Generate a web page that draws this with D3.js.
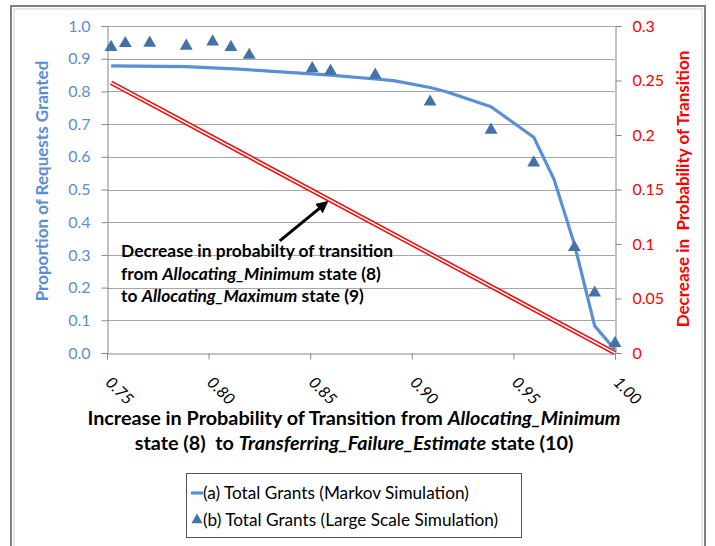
<!DOCTYPE html>
<html>
<head>
<meta charset="utf-8">
<script src="https://cdn.jsdelivr.net/npm/d3@7"></script>
<style>
  body { margin: 0; background: #fff; }
  svg text { font-family: Lato, "Open Sans", sans-serif; }
</style>
</head>
<body>
<svg width="715" height="546"></svg>
<script>
// values
var xTicks = [0.75, 0.80, 0.85, 0.90, 0.95, 1.00];
var leftTicks = [0, 0.1, 0.2, 0.3, 0.4, 0.5, 0.6, 0.7, 0.8, 0.9, 1.0];
var rightTicks = [0, 0.05, 0.1, 0.15, 0.2, 0.25, 0.3];

var markovX = [0.752, 0.789, 0.815, 0.860, 0.882, 0.891, 0.909, 0.917, 0.939, 0.960, 0.970, 0.980, 0.990, 1.000];
var markovY = [0.878, 0.876, 0.868, 0.850, 0.838, 0.833, 0.812, 0.799, 0.753, 0.660, 0.531, 0.333, 0.083, 0.010];

var largeX = [0.752, 0.759, 0.771, 0.789, 0.802, 0.811, 0.820, 0.851, 0.860, 0.882, 0.909, 0.939, 0.960, 0.980, 0.990, 1.000];
var largeY = [0.935, 0.947, 0.948, 0.939, 0.952, 0.935, 0.911, 0.870, 0.862, 0.850, 0.768, 0.682, 0.582, 0.323, 0.184, 0.030];

var decreaseX = [0.752, 1.000];
var decreaseY = [0.248, 0.000];

var legendLabels = ["(a) Total Grants (Markov Simulation)", "(b) Total Grants (Large Scale Simulation)"];

var svg = d3.select("svg");
var blue = "#5a8ed5", dark = "#4472a8", red = "#ff0000", grid = "#a6a6a6";

var x = d3.scaleLinear().domain([0.75, 1.0]).range([107, 615]);
var y = d3.scaleLinear().domain([0, 1]).range([353, 26]);
var y2 = d3.scaleLinear().domain([0, 0.3]).range([353, 26]);

// outer frame
svg.append("rect").attr("x", 11).attr("y", 6).attr("width", 694).attr("height", 580)
  .attr("fill", "none").attr("stroke", "#808080").attr("stroke-width", 2);
svg.append("rect").attr("x", 14).attr("y", 9).attr("width", 688).attr("height", 580)
  .attr("fill", "none").attr("stroke", "#d0d0d0").attr("stroke-width", 1);

// gridlines
svg.append("g").selectAll("line").data(leftTicks.slice(1)).enter().append("line")
  .attr("x1", 107).attr("x2", 615)
  .attr("y1", function(d) { return Math.round(y(d)) + 0.5; })
  .attr("y2", function(d) { return Math.round(y(d)) + 0.5; })
  .attr("stroke", grid).attr("stroke-width", 1.2);

// left axis
var gl = svg.append("g").attr("transform", "translate(107.5,0)")
  .call(d3.axisLeft(y).tickValues(leftTicks).tickFormat(d3.format(".1f")).tickSize(6).tickPadding(11));
gl.select(".domain").attr("stroke", "#868686");
gl.selectAll(".tick line").attr("stroke", "#868686");
gl.selectAll(".tick text").attr("fill", blue).style("font-size", "16px");

// right axis
var gr = svg.append("g").attr("transform", "translate(615.5,0)")
  .call(d3.axisRight(y2).tickValues(rightTicks).tickFormat(function(d) { return d === 0 ? "0" : String(d); }).tickSize(6).tickPadding(11));
gr.select(".domain").attr("stroke", "#868686");
gr.selectAll(".tick line").attr("stroke", "#868686");
gr.selectAll(".tick text").attr("fill", red).style("font-size", "16px");

// bottom axis
var gb = svg.append("g").attr("transform", "translate(0,353.5)")
  .call(d3.axisBottom(x).tickValues(xTicks).tickFormat(d3.format(".2f")).tickSize(6));
gb.select(".domain").attr("stroke", "#868686");
gb.selectAll(".tick line").attr("stroke", "#868686");
gb.selectAll(".tick text")
  .attr("fill", "#000").style("font-size", "16px").style("font-style", "italic")
  .attr("text-anchor", "start").attr("dy", null)
  .attr("transform", "translate(-3,30) rotate(45)").attr("y", 0).attr("x", 0);

// decrease line (double red line)
var redLine = d3.line()
  .x(function(d, i) { return x(decreaseX[i]); })
  .y(function(d) { return y2(d); });
svg.append("path").attr("d", redLine(decreaseY)).attr("fill", "none")
  .attr("stroke", red).attr("stroke-width", 4.5);
svg.append("path").attr("d", redLine(decreaseY)).attr("fill", "none")
  .attr("stroke", "#fff").attr("stroke-width", 1.6);

// Markov line
var line = d3.line()
  .x(function(d, i) { return x(markovX[i]); })
  .y(function(d) { return y(d); });
svg.append("path").attr("d", line(markovY)).attr("fill", "none")
  .attr("stroke", blue).attr("stroke-width", 3.2).attr("stroke-linejoin", "round");

// large scale triangles
var tri = d3.symbol().type(d3.symbolTriangle).size(72);
svg.append("g").selectAll("path").data(largeY).enter().append("path")
  .attr("d", tri)
  .attr("transform", function(d, i) { return "translate(" + x(largeX[i]) + "," + y(d) + ")"; })
  .attr("fill", dark);

// annotation
var ann = svg.append("text").attr("x", x(0.7569)).attr("y", 257)
  .style("font-size", "17.4px").style("font-weight", "bold").attr("fill", "#000");
ann.append("tspan").text("Decrease in probabilty of transition");
var l2 = ann.append("tspan").attr("x", x(0.7569)).attr("dy", 22.5);
l2.append("tspan").text("from ");
l2.append("tspan").style("font-style", "italic").text("Allocating_Minimum");
l2.append("tspan").text(" state (8)");
var l3 = ann.append("tspan").attr("x", x(0.7569)).attr("dy", 22.5);
l3.append("tspan").text("to ");
l3.append("tspan").style("font-style", "italic").text("Allocating_Maximum");
l3.append("tspan").text(" state (9)");

// arrow
svg.append("defs").append("marker").attr("id", "ah")
  .attr("viewBox", "0 0 10 10").attr("refX", 8).attr("refY", 5)
  .attr("markerWidth", 4).attr("markerHeight", 4).attr("orient", "auto")
  .append("path").attr("d", "M0,0 L10,5 L0,10 Z").attr("fill", "#000");
svg.append("line")
  .attr("x1", x(0.835)).attr("y1", y(0.343))
  .attr("x2", x(0.858)).attr("y2", y(0.46))
  .attr("stroke", "#000").attr("stroke-width", 3).attr("marker-end", "url(#ah)");

// axis titles
svg.append("text").attr("transform", "translate(48,181) rotate(-90)")
  .attr("text-anchor", "middle").attr("fill", blue)
  .style("font-size", "17px").style("font-weight", "bold")
  .text("Proportion of Requests Granted");
svg.append("text").attr("transform", "translate(689,189) rotate(-90)")
  .attr("text-anchor", "middle").attr("fill", red)
  .style("font-size", "17px").style("font-weight", "bold")
  .text("Decrease in\u00a0 Probability of Transition");

var xt = svg.append("text").attr("text-anchor", "middle").attr("fill", "#000")
  .style("font-size", "19.8px").style("font-weight", "bold");
var t1 = xt.append("tspan").attr("x", 354).attr("y", 425);
t1.append("tspan").text("Increase in Probability of Transition from ");
t1.append("tspan").style("font-style", "italic").text("Allocating_Minimum");
var t2 = xt.append("tspan").attr("x", 354).attr("y", 450);
t2.append("tspan").text("state (8)\u00a0 to ");
t2.append("tspan").style("font-style", "italic").text("Transferring_Failure_Estimate");
t2.append("tspan").text(" state (10)");

// legend
var lg = svg.append("g");
lg.append("rect").attr("x", 186.5).attr("y", 473.5).attr("width", 335).attr("height", 64)
  .attr("fill", "#fff").attr("stroke", "#555").attr("stroke-width", 1);
lg.append("line").attr("x1", 191).attr("x2", 203).attr("y1", 493).attr("y2", 493)
  .attr("stroke", blue).attr("stroke-width", 3.2);
lg.append("path").attr("d", d3.symbol().type(d3.symbolTriangle).size(55))
  .attr("transform", "translate(197,520)").attr("fill", dark);
lg.selectAll("text.lab").data(legendLabels).enter().append("text")
  .attr("class", "lab").attr("x", 203).attr("y", function(d, i) { return 499 + i * 27; })
  .style("font-size", "17.2px").attr("fill", "#000")
  .text(function(d) { return d; });
</script>
</body>
</html>
